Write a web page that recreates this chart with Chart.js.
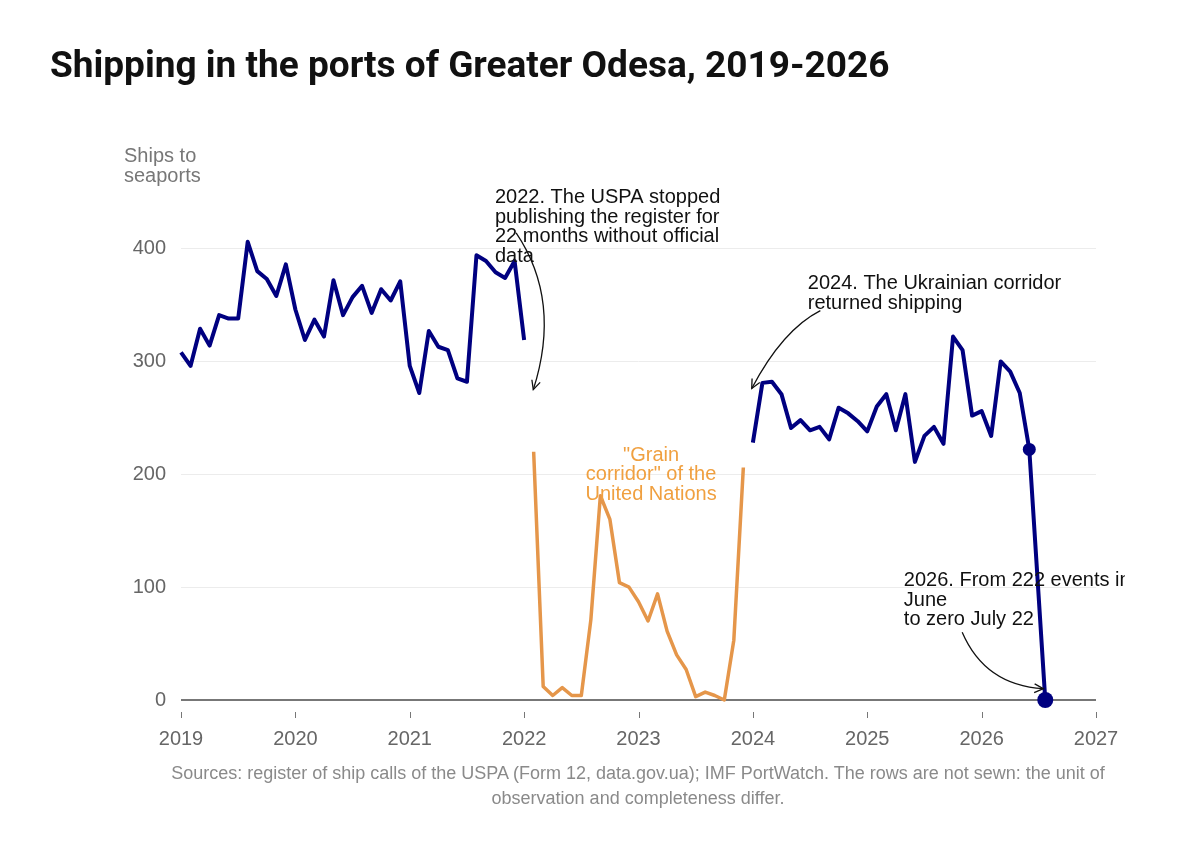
<!DOCTYPE html>
<html>
<head>
<meta charset="utf-8">
<title>Shipping in the ports of Greater Odesa</title>
<script src="https://cdn.jsdelivr.net/npm/chart.js@4.4.1/dist/chart.umd.min.js"></script>
<style>
    html, body { margin: 0; padding: 0; background: #fff; }
    #wrap { position: relative; width: 1200px; height: 857px; overflow: hidden; }
    #title {
        position: absolute; left: 50px; top: 43px; margin: 0;
        font-family: Roboto, sans-serif; font-weight: 700; font-size: 37px;
        color: #111; white-space: nowrap;
    }
    #source {
        position: absolute; left: 0; top: 761px; width: 1276px; margin: 0;
        text-align: center; font-family: 'Liberation Sans', Arial, sans-serif;
        font-size: 18px; line-height: 25px; color: #8a8a8a;
    }
    canvas { position: absolute; left: 0; top: 0; }
</style>
</head>
<body>
<div id="wrap">
    <canvas id="shipsChart" width="1200" height="857"></canvas>
    <h1 id="title">Shipping in the ports of Greater Odesa, 2019-2026</h1>
    <p id="source">Sources: register of ship calls of the USPA (Form 12, data.gov.ua); IMF PortWatch. The rows are not sewn: the unit of<br>observation and completeness differ.</p>
</div>
<script>
// USPA register, monthly ship calls, from January 2019
const uspaStart = [2019, 1];
const uspaCalls = [308, 296, 329, 314, 341, 338, 338, 406, 380, 373, 358, 386,
                   346, 319, 337, 322, 372, 341, 357, 367, 343, 364, 354, 371,
                   296, 272, 327, 313, 310, 285, 282, 394, 389, 379, 374, 389,
                   319];

// UN grain corridor, from February 2022
const grainStart = [2022, 2];
const grainCalls = [220, 12, 4, 11, 4, 4, 71, 181, 160, 104, 100,
                    87, 70, 94, 61, 40, 27, 3, 7, 4, 0, 53, 206];

// Ukrainian corridor / PortWatch, from January 2024
const corridorStart = [2024, 1];
const corridorCalls = [228, 281, 282, 271, 241, 248, 239, 242, 231, 259, 254, 247,
                       238, 260, 271, 239, 271, 211, 234, 242, 227, 322, 310, 252,
                       256, 234, 300, 291, 272, 222];
const lastDay = { date: '2026-07-22', value: 0 };

const yearTicks = [2019, 2020, 2021, 2022, 2023, 2024, 2025, 2026, 2027];
const valueTicks = [0, 100, 200, 300, 400];

const NAVY = '#000080';
const ORANGE = '#e5964a';
const FONT = "'Liberation Sans', Arial, sans-serif";

// month index -> decimal year
function monthSeries(start, values) {
    return values.map((v, i) => ({ x: start[0] + (start[1] - 1 + i) / 12, y: v }));
}

function dayToYear(str) {
    const [y, m, d] = str.split('-').map(Number);
    const dim = new Date(y, m, 0).getDate();
    return y + (m - 1 + (d - 1) / dim) / 12;
}

const corridorPoints = monthSeries(corridorStart, corridorCalls);
corridorPoints.push({ x: dayToYear(lastDay.date), y: lastDay.value });

// annotations (positions in data units)
const notes = [
    { lines: ['2022. The USPA stopped', 'publishing the register for', '22 months without official', 'data'],
      at: [2021.745, 440], color: '#111',
      arrow: [[2021.93, 414], [2022.33, 354], [2022.08, 275]] },
    { lines: ['2024. The Ukrainian corridor', 'returned shipping'],
      at: [2024.48, 364], color: '#111',
      arrow: [[2024.59, 345], [2024.26, 328], [2023.99, 276]] },
    { lines: ['2026. From 222 events in', 'June', 'to zero July 22'],
      at: [2025.32, 101], color: '#111', clipRight: 1125,
      arrow: [[2025.83, 60], [2026.03, 13], [2026.54, 10]] },
    { lines: ['"Grain', 'corridor" of the', 'United Nations'],
      at: [2023.11, 212], color: '#f0a040', align: 'center' }
];

const decorPlugin = {
    id: 'decor',
    beforeDatasetsDraw(chart) {
        const { ctx, chartArea, scales } = chart;
        const y0 = scales.y.getPixelForValue(0);
        ctx.save();
        ctx.strokeStyle = '#777';
        ctx.lineWidth = 2;
        ctx.beginPath();
        ctx.moveTo(chartArea.left, y0);
        ctx.lineTo(chartArea.right, y0);
        ctx.stroke();
        // small tick marks detached from the axis
        ctx.lineWidth = 1;
        yearTicks.forEach(yr => {
            const x = Math.round(scales.x.getPixelForValue(yr)) + 0.5;
            ctx.beginPath();
            ctx.moveTo(x, y0 + 12);
            ctx.lineTo(x, y0 + 18);
            ctx.stroke();
        });
        // axis title
        ctx.fillStyle = '#777';
        ctx.font = '20px ' + FONT;
        ctx.textBaseline = 'alphabetic';
        ctx.fillText('Ships to', 124, 162);
        ctx.fillText('seaports', 124, 182);
        ctx.restore();
    },
    afterDatasetsDraw(chart) {
        const { ctx, scales } = chart;
        const P = (p) => [scales.x.getPixelForValue(p[0]), scales.y.getPixelForValue(p[1])];
        ctx.save();
        notes.forEach(n => {
            const [tx, ty] = P(n.at);
            ctx.save();
            if (n.clipRight) {
                ctx.beginPath();
                ctx.rect(0, 0, n.clipRight, chart.height);
                ctx.clip();
            }
            ctx.fillStyle = n.color;
            ctx.font = '20px ' + FONT;
            ctx.textAlign = n.align || 'left';
            n.lines.forEach((line, i) => ctx.fillText(line, tx, ty + i * 19.5));
            ctx.restore();
            if (n.arrow) {
                const [a, c, b] = n.arrow.map(P);
                ctx.strokeStyle = '#111';
                ctx.lineWidth = 1.3;
                ctx.beginPath();
                ctx.moveTo(a[0], a[1]);
                ctx.quadraticCurveTo(c[0], c[1], b[0], b[1]);
                ctx.stroke();
                const ang = Math.atan2(b[1] - c[1], b[0] - c[0]);
                const len = 10;
                ctx.beginPath();
                ctx.moveTo(b[0] - len * Math.cos(ang - 0.45), b[1] - len * Math.sin(ang - 0.45));
                ctx.lineTo(b[0], b[1]);
                ctx.lineTo(b[0] - len * Math.cos(ang + 0.45), b[1] - len * Math.sin(ang + 0.45));
                ctx.stroke();
            }
        });
        ctx.restore();
    }
};

const lastIdx = corridorPoints.length - 1;

new Chart(document.getElementById('shipsChart').getContext('2d'), {
    type: 'line',
    data: {
        datasets: [{
            label: 'USPA register',
            data: monthSeries(uspaStart, uspaCalls),
            borderColor: NAVY,
            borderWidth: 4,
            pointRadius: 0,
            clip: false
        }, {
            label: 'Grain corridor',
            data: monthSeries(grainStart, grainCalls),
            borderColor: ORANGE,
            borderWidth: 3.5,
            pointRadius: 0,
            clip: false
        }, {
            label: 'Ukrainian corridor',
            data: corridorPoints,
            borderColor: NAVY,
            backgroundColor: NAVY,
            borderWidth: 4,
            pointRadius: ctx => ctx.dataIndex === lastIdx ? 8 : (ctx.dataIndex === lastIdx - 1 ? 6.5 : 0),
            pointBorderWidth: 0,
            clip: false
        }]
    },
    options: {
        responsive: false,
        animation: false,
        layout: { padding: { top: 226, right: 104, left: 0, bottom: 0 } },
        elements: { line: { tension: 0, borderJoinStyle: 'round' } },
        scales: {
            x: {
                type: 'linear',
                min: 2019,
                max: 2027,
                afterFit: s => { s.height = 157; },
                afterBuildTicks: s => { s.ticks = yearTicks.map(v => ({ value: v })); },
                grid: { display: false, drawTicks: false },
                border: { display: false },
                ticks: {
                    padding: 27,
                    color: '#666',
                    font: { family: FONT, size: 20 },
                    callback: v => String(v)
                }
            },
            y: {
                min: 0,
                max: 420,
                afterFit: s => { s.width = 181; },
                afterBuildTicks: s => { s.ticks = valueTicks.map(v => ({ value: v })); },
                grid: { color: '#ececec', lineWidth: 1, drawTicks: false },
                border: { display: false },
                ticks: {
                    padding: 15,
                    color: '#666',
                    font: { family: FONT, size: 20 }
                }
            }
        },
        plugins: {
            legend: { display: false },
            tooltip: { enabled: false }
        }
    },
    plugins: [decorPlugin]
});
</script>
</body>
</html>
